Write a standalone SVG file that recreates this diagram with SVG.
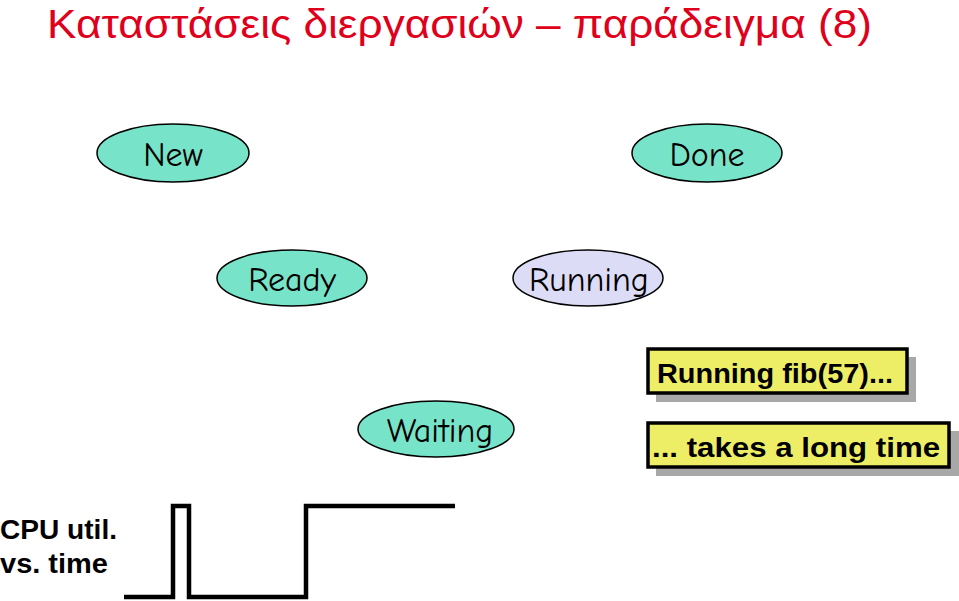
<svg xmlns="http://www.w3.org/2000/svg" width="959" height="601" viewBox="0 0 959 601">
<style>
.st{stroke:#000;stroke-width:1.5}
.teal{fill:#77E3C8}
.lav{fill:#DCDCF6}
.lbl{font-family:"Comic Neue","Liberation Sans",sans-serif;font-size:34px;fill:#000;text-anchor:middle}
.note{font-family:"Liberation Sans",sans-serif;font-weight:bold;font-size:27px;fill:#000}
.ybox{fill:#EEEE66;stroke:#000;stroke-width:3.5}
.shadow{fill:#A8A8A8}
</style>
<rect width="959" height="601" fill="#fff"/>
<text x="47" y="38" font-family="Liberation Sans,Arial,sans-serif" font-size="40" fill="#E0001B" textLength="825" lengthAdjust="spacingAndGlyphs">Καταστάσεις διεργασιών – παράδειγμα (8)</text>
<g id="new"><ellipse class="st teal" cx="173" cy="153" rx="76" ry="29"/><text class="lbl" x="173" y="166">New</text></g>
<g id="done"><ellipse class="st teal" cx="707" cy="153" rx="75" ry="29"/><text class="lbl" x="707" y="166">Done</text></g>
<g id="ready"><ellipse class="st teal" cx="292" cy="278" rx="75" ry="28"/><text class="lbl" x="292" y="291">Ready</text></g>
<g id="running"><ellipse class="st lav" cx="588" cy="278" rx="75" ry="28"/><text class="lbl" x="589" y="291">Running</text></g>
<g id="waiting"><ellipse class="st teal" cx="436" cy="429" rx="78" ry="28"/><text class="lbl" x="440" y="442">Waiting</text></g>
<g id="note1"><rect class="shadow" x="656" y="357" width="260" height="45"/><rect class="ybox" x="648" y="349" width="259" height="44"/><text class="note" x="657" y="383" textLength="236" lengthAdjust="spacingAndGlyphs">Running fib(57)...</text></g>
<g id="note2"><rect class="shadow" x="656" y="431" width="303" height="45"/><rect class="ybox" x="648" y="423" width="301" height="44"/><text class="note" x="652" y="457" textLength="288" lengthAdjust="spacingAndGlyphs">... takes a long time</text></g>
<g id="cpu">
<text class="note" x="0" y="539" textLength="117" lengthAdjust="spacingAndGlyphs">CPU util.</text>
<text class="note" x="0" y="573" textLength="108" lengthAdjust="spacingAndGlyphs">vs. time</text>
<path d="M124 597 H173 V506 H189 V597 H306 V506 H455" fill="none" stroke="#000" stroke-width="4.5"/>
</g>
<g id="connectors"></g>
</svg>
